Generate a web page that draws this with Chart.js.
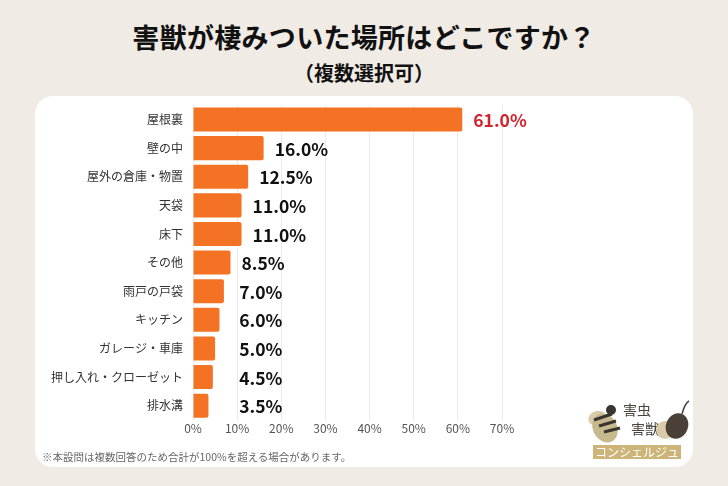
<!DOCTYPE html>
<html lang="ja">
<head>
<meta charset="utf-8">
<script src="https://cdn.jsdelivr.net/npm/chart.js@4/dist/chart.umd.min.js"></script>
<style>
  html, body { margin: 0; padding: 0; }
  body {
    width: 728px; height: 486px; overflow: hidden;
    background: #f0ebe4; position: relative;
    font-family: "Noto Sans CJK JP", "Noto Sans", sans-serif;
  }
  .title {
    position: absolute; left: 0; width: 728px; top: 20px;
    text-align: center; font-size: 27px; font-weight: bold; color: #111;
    line-height: 34px; letter-spacing: 0.3px;
  }
  .subtitle {
    position: absolute; left: 0; width: 728px; top: 59px;
    text-align: center; font-size: 20px; font-weight: bold; color: #111;
    line-height: 28px;
  }
  .panel {
    position: absolute; left: 35px; top: 96px; width: 658px; height: 371px;
    background: #fff; border-radius: 18px;
  }
  #chart { position: absolute; left: 0; top: 0; }
  .note {
    position: absolute; left: 7px; top: 353px;
    font-size: 10.5px; color: #666; white-space: nowrap;
  }
  #logo { position: absolute; left: 550px; top: 302px; }
</style>
</head>
<body>
<div class="title">害獣が棲みついた場所はどこですか？</div>
<div class="subtitle">（複数選択可）</div>
<div class="panel">
  <canvas id="chart" width="658" height="371"></canvas>
  <div class="note">※本設問は複数回答のため合計が100%を超える場合があります。</div>
  <canvas id="logo" width="105" height="65"></canvas>
</div>
<script>
// data
const places = [
  "屋根裏", "壁の中", "屋外の倉庫・物置", "天袋", "床下", "その他",
  "雨戸の戸袋", "キッチン", "ガレージ・車庫", "押し入れ・クローゼット", "排水溝"
];
const shares = [61.0, 16.0, 12.5, 11.0, 11.0, 8.5, 7.0, 6.0, 5.0, 4.5, 3.5];
const tickValues = [0, 10, 20, 30, 40, 50, 60, 70];

const FONT = '"Noto Sans CJK JP", "Noto Sans", sans-serif';

// value labels right of each bar (never left of the 10% line)
const valueLabels = {
  id: "valueLabels",
  afterDatasetsDraw(chart) {
    const ctx = chart.ctx;
    const meta = chart.getDatasetMeta(0);
    const xs = chart.scales.x;
    const minX = xs.getPixelForValue(10) + 2;
    ctx.save();
    ctx.font = "bold 17.5px " + FONT;
    ctx.textBaseline = "middle";
    ctx.textAlign = "left";
    meta.data.forEach((bar, i) => {
      const x = Math.max(bar.x + 11, minX);
      ctx.fillStyle = i === 0 ? "#d3232a" : "#111";
      ctx.fillText(shares[i].toFixed(1) + "%", x, bar.y + 1);
    });
    ctx.restore();
  }
};

new Chart(document.getElementById("chart"), {
  type: "bar",
  data: {
    labels: places,
    datasets: [{
      data: shares,
      backgroundColor: "#f47224",
      borderRadius: 2,
      borderSkipped: "start",
      barPercentage: 0.84,
      categoryPercentage: 1.0,
    }],
  },
  options: {
    indexAxis: "y",
    responsive: false,
    animation: false,
    events: [],
    layout: { padding: { left: 0, right: 191, top: 3, bottom: 25 } },
    plugins: { legend: { display: false }, tooltip: { enabled: false } },
    scales: {
      x: {
        min: 0, max: 70,
        afterBuildTicks: (s) => { s.ticks = tickValues.map((v) => ({ value: v })); },
        afterFit: (s) => { s.height = 22; },
        grid: { color: "#ebebeb", drawTicks: false },
        border: { display: false },
        ticks: {
          padding: 1,
          color: "#555",
          font: { family: FONT, size: 12 },
          callback: (v) => v + "%",
        },
      },
      y: {
        afterFit: (s) => { s.width = 158; },
        grid: { display: false },
        border: { display: false },
        ticks: {
          padding: 2,
          color: "#333",
          font: { family: FONT, size: 12 },
        },
      },
    },
  },
  plugins: [valueLabels],
});

// simple logo
(function () {
  const c = document.getElementById("logo").getContext("2d");
  // bee
  c.fillStyle = "#d9cba8";
  c.beginPath(); c.ellipse(12, 20, 9, 7, -0.4, 0, Math.PI * 2); c.fill();
  c.fillStyle = "#c7b98e";
  c.beginPath(); c.ellipse(20, 30, 12, 15, -0.5, 0, Math.PI * 2); c.fill();
  c.strokeStyle = "#3a3530"; c.lineWidth = 3;
  for (let k = 0; k < 3; k++) {
    c.beginPath(); c.moveTo(9 + k * 5, 22 + k * 6); c.lineTo(27 + k * 4, 16 + k * 7); c.stroke();
  }
  c.fillStyle = "#3a3530";
  c.beginPath(); c.arc(26, 12, 5, 0, Math.PI * 2); c.fill();
  // text
  c.fillStyle = "#4a433c";
  c.font = "14px " + FONT;
  c.textBaseline = "middle";
  c.fillText("害虫", 38, 12);
  c.fillText("害獣", 46, 31);
  // mouse
  c.fillStyle = "#d9cba8";
  c.beginPath(); c.arc(80, 32, 9, 0, Math.PI * 2); c.fill();
  c.fillStyle = "#4a4038";
  c.beginPath(); c.ellipse(92, 28, 11, 13, 0.4, 0, Math.PI * 2); c.fill();
  c.strokeStyle = "#4a4038"; c.lineWidth = 1.5;
  c.beginPath(); c.moveTo(97, 16); c.quadraticCurveTo(100, 5, 104, 3); c.stroke();
  // banner
  c.fillStyle = "#cdb57a";
  c.fillRect(8, 47, 88, 14);
  c.fillStyle = "#fff";
  c.font = "12px " + FONT;
  c.textAlign = "center";
  c.fillText("コンシェルジュ", 52, 54.5);
})();
</script>
</body>
</html>
